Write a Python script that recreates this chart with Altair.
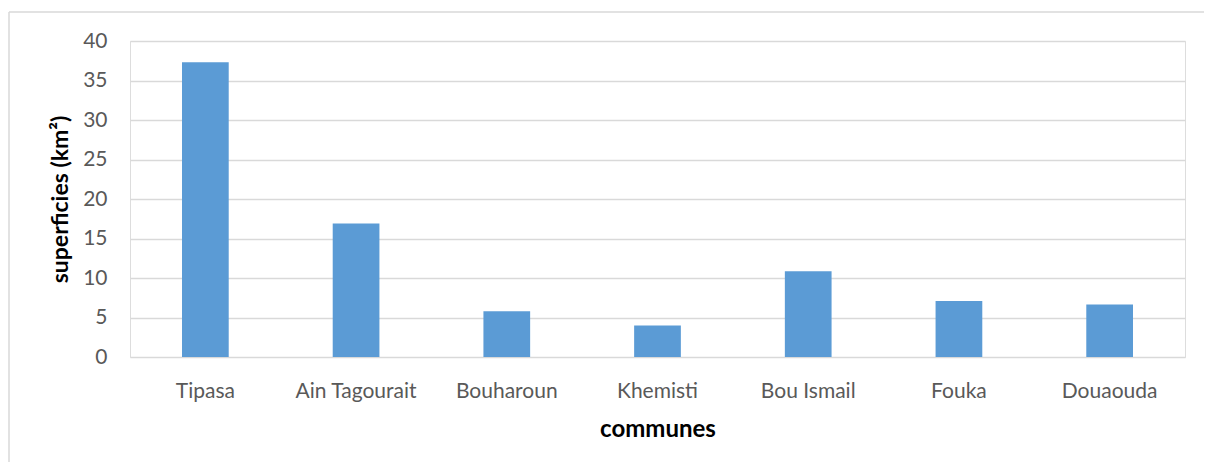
import altair as alt
import pandas as pd

communes = ["Tipasa", "Ain Tagourait", "Bouharoun", "Khemisti", "Bou Ismail", "Fouka", "Douaouda"]
superficies = [37.3, 16.9, 5.8, 4.0, 10.85, 7.1, 6.65]
y_ticks = [0, 5, 10, 15, 20, 25, 30, 35, 40]

df = pd.DataFrame({"commune": communes, "superficie": superficies})

W, H = 1055, 316
PAD_R, PAD_B = 19, 105

bars = alt.Chart(df).mark_bar(color="#5B9BD5").encode(
    x=alt.X(
        "commune:N",
        sort=communes,
        scale=alt.Scale(paddingInner=0.69, paddingOuter=0.345),
        axis=alt.Axis(
            title="communes",
            labelAngle=0,
            labelFont="Lato",
            labelFontSize=21,
            labelColor="#595959",
            labelBaseline="alphabetic",
            labelPadding=40,
            ticks=False,
            domain=False,
            grid=False,
            titleFont="Lato",
            titleFontSize=24,
            titleFontWeight="bold",
            titleColor="#000000",
            titleX=W / 2,
            titleY=79,
            titleAlign="center",
            titleBaseline="alphabetic",
        ),
    ),
    y=alt.Y(
        "superficie:Q",
        scale=alt.Scale(domain=[0, 40], nice=False),
        axis=alt.Axis(
            title="superficies (km²)",
            values=y_ticks,
            labelFont="Lato",
            labelFontSize=21,
            labelColor="#595959",
            labelPadding=23,
            ticks=False,
            domain=False,
            grid=True,
            gridColor="#D9D9D9",
            gridWidth=1.5,
            titleFont="Lato",
            titleFontSize=23,
            titleFontWeight="bold",
            titleColor="#000000",
            titleAngle=-90,
            titleX=-70,
            titleY=H / 2,
            titleAlign="center",
            titleBaseline="middle",
        ),
    ),
)

frame_data = pd.DataFrame({"f": [0]})
frame_top = alt.Chart(frame_data).mark_rule(color="#D9D9D9", strokeWidth=1.5).encode(
    x=alt.value(-121),
    x2=alt.value(W + PAD_R),
    y=alt.value(-29),
)
frame_left = alt.Chart(frame_data).mark_rule(color="#D9D9D9", strokeWidth=1.5).encode(
    x=alt.value(-121),
    y=alt.value(-29),
    y2=alt.value(H + PAD_B),
)

chart = alt.layer(frame_top, frame_left, bars).properties(
    width=W,
    height=H,
    autosize=alt.AutoSizeParams(type="none"),
    padding={"left": 122, "top": 33, "right": PAD_R, "bottom": PAD_B},
).configure_view(stroke=None).configure(background="white")

chart.save("out.html", embed_options={"renderer": "svg", "actions": False})
